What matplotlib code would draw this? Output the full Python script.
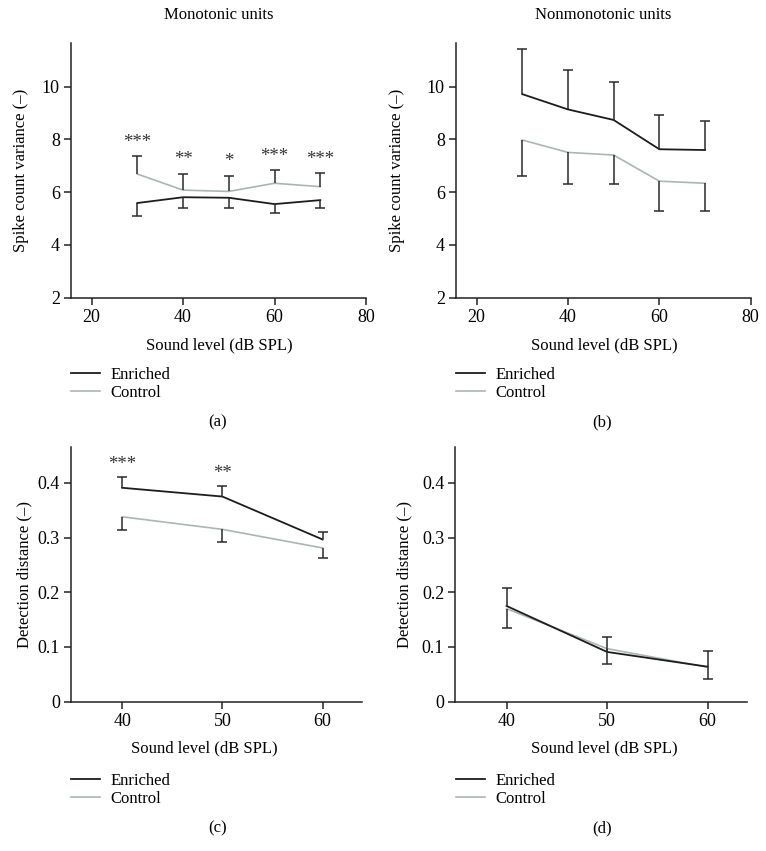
import matplotlib
matplotlib.use('Agg')
import matplotlib.pyplot as plt

plt.rcParams['font.family'] = ['Liberation Serif', 'DejaVu Serif']
plt.rcParams['font.size'] = 12

# ================== data ==================
levels_var = [30, 40, 50, 60, 70]
mono_enriched = [5.59, 5.81, 5.79, 5.55, 5.70]
mono_enriched_err = [0.51, 0.42, 0.40, 0.33, 0.31]
mono_control = [6.69, 6.08, 6.03, 6.34, 6.21]
mono_control_err = [0.68, 0.62, 0.60, 0.50, 0.51]
mono_stars = ['***', '**', '*', '***', '***']

nonmono_enriched = [9.72, 9.14, 8.74, 7.63, 7.60]
nonmono_enriched_err = [1.70, 1.48, 1.43, 1.30, 1.11]
nonmono_control = [7.98, 7.51, 7.41, 6.42, 6.34]
nonmono_control_err = [1.37, 1.21, 1.09, 1.13, 1.04]

levels_det = [40, 50, 60]
det_mono_enriched = [0.391, 0.375, 0.2965]
det_mono_enriched_err = [0.020, 0.020, 0.0145]
det_mono_control = [0.338, 0.315, 0.281]
det_mono_control_err = [0.0245, 0.0226, 0.0177]
det_mono_stars = ['***', '**', '']

det_nonmono_enriched = [0.175, 0.091, 0.064]
det_nonmono_enriched_err = [0.033, 0.0265, 0.0285]
det_nonmono_control = [0.170, 0.097, 0.063]
det_nonmono_control_err = [0.036, 0.0276, 0.0216]

var_ticks = [2, 4, 6, 8, 10]
det_ticks = [0, 0.1, 0.2, 0.3, 0.4]
det_tick_labels = ['0', '0.1', '0.2', '0.3', '0.4']

ENR = '#1c1c1c'
CTL = '#a9b6b2'
ERR = '#2a2a2a'

W, H = 766, 851
fig = plt.figure(figsize=(W / 100, H / 100), dpi=100)


def px_axes(l, t, r, b):
    return fig.add_axes([l / W, 1 - b / H, (r - l) / W, (b - t) / H])


def style(ax):
    for s in ['top', 'right']:
        ax.spines[s].set_visible(False)
    for s in ['left', 'bottom']:
        ax.spines[s].set_linewidth(1.1)
        ax.spines[s].set_color('#222222')
    ax.tick_params(direction='out', length=5, width=1.1, labelsize=13, color='#222222', pad=3)


def one_sided(ax, x, y, err, up):
    zeros = [0] * len(x)
    yerr = [zeros, err] if up else [err, zeros]
    _, caps, _ = ax.errorbar(x, y, yerr=yerr, fmt='none', ecolor=ERR, elinewidth=1.1,
                             capsize=3.4, capthick=1.1, zorder=4)
    # caps[0] = lower caps, caps[1] = upper caps; hide the one sitting on the line
    caps[0 if up else 1].set_visible(False)


def draw(ax, x, enr, enr_err, ctl, ctl_err, enr_up):
    ax.plot(x, ctl, color=CTL, lw=1.2, label='Control', zorder=2)
    ax.plot(x, enr, color=ENR, lw=1.3, label='Enriched', zorder=3)
    one_sided(ax, x, enr, enr_err, enr_up)
    one_sided(ax, x, ctl, ctl_err, not enr_up)


def stars(ax, x, tops, labels, off):
    for xi, ti, s in zip(x, tops, labels):
        if s:
            ax.annotate(s, (xi, ti), xytext=(0, off), textcoords='offset points',
                        ha='center', va='center', fontsize=13.5, color='#333333')


def labels(ax, xl_x, xl_y, yl_x, title=None):
    ax.set_xlabel('Sound level (dB SPL)', fontsize=12)
    ax.xaxis.set_label_coords(xl_x / W, 1 - xl_y / H, transform=fig.transFigure)
    ax.xaxis.label.set_va('center')
    bb = ax.get_position()
    ax.yaxis.set_label_coords(yl_x / W, bb.y0 + bb.height / 2, transform=fig.transFigure)
    ax.yaxis.label.set_va('center')
    if title:
        fig.text((bb.x0 + bb.x1) / 2, 1 - 15 / H, title, ha='center', va='center', fontsize=12)


def legend(ax, x, y):
    h, l = ax.get_legend_handles_labels()
    order = [1, 0]
    ax.legend([h[i] for i in order], [l[i] for i in order], loc='center left',
              bbox_to_anchor=(x / W, 1 - y / H), bbox_transform=fig.transFigure,
              frameon=False, fontsize=12, handlelength=1.75, handletextpad=0.6,
              labelspacing=0.15, borderpad=0, borderaxespad=0)


# (a) monotonic units, spike count variance
ax = px_axes(71, 42.7, 366, 297.7)
draw(ax, levels_var, mono_enriched, mono_enriched_err, mono_control, mono_control_err, enr_up=False)
stars(ax, levels_var, [c + e for c, e in zip(mono_control, mono_control_err)], mono_stars, 10)
ax.set_xlim(15.5, 80)
ax.set_ylim(2, 11.67)
ax.set_xticks([20, 40, 60, 80])
ax.set_yticks(var_ticks)
ax.set_ylabel('Spike count variance (–)', fontsize=12)
style(ax)
labels(ax, 219, 345, 21, 'Monotonic units')
legend(ax, 71, 384)
fig.text(218 / W, 1 - 422 / H, '(a)', ha='center', va='center', fontsize=12)

# (b) nonmonotonic units, spike count variance
ax = px_axes(456, 42.7, 750.7, 297.7)
draw(ax, levels_var, nonmono_enriched, nonmono_enriched_err, nonmono_control, nonmono_control_err, enr_up=True)
ax.set_xlim(15.5, 80)
ax.set_ylim(2, 11.67)
ax.set_xticks([20, 40, 60, 80])
ax.set_yticks(var_ticks)
ax.set_ylabel('Spike count variance (–)', fontsize=12)
style(ax)
labels(ax, 604, 345, 397, 'Nonmonotonic units')
legend(ax, 456, 384)
fig.text(602 / W, 1 - 422 / H, '(b)', ha='center', va='center', fontsize=12)

# (c) monotonic units, detection distance
ax = px_axes(71, 447.3, 361.7, 701.7)
draw(ax, levels_det, det_mono_enriched, det_mono_enriched_err, det_mono_control, det_mono_control_err, enr_up=True)
stars(ax, levels_det, [e + r for e, r in zip(det_mono_enriched, det_mono_enriched_err)], det_mono_stars, 9)
ax.set_xlim(34.9, 63.9)
ax.set_ylim(0, 0.465)
ax.set_xticks(levels_det)
ax.set_yticks(det_ticks)
ax.set_yticklabels(det_tick_labels)
ax.set_ylabel('Detection distance (–)', fontsize=12)
style(ax)
labels(ax, 204, 748, 24)
legend(ax, 71, 790)
fig.text(218 / W, 1 - 828 / H, '(c)', ha='center', va='center', fontsize=12)

# (d) nonmonotonic units, detection distance
ax = px_axes(455.3, 447.3, 746.7, 701.7)
draw(ax, levels_det, det_nonmono_enriched, det_nonmono_enriched_err, det_nonmono_control, det_nonmono_control_err, enr_up=True)
ax.set_xlim(34.9, 63.9)
ax.set_ylim(0, 0.465)
ax.set_xticks(levels_det)
ax.set_yticks(det_ticks)
ax.set_yticklabels(det_tick_labels)
ax.set_ylabel('Detection distance (–)', fontsize=12)
style(ax)
labels(ax, 604, 748, 404)
legend(ax, 456, 790)
fig.text(602 / W, 1 - 828 / H, '(d)', ha='center', va='center', fontsize=12)

fig.savefig('out.png', dpi=100)
